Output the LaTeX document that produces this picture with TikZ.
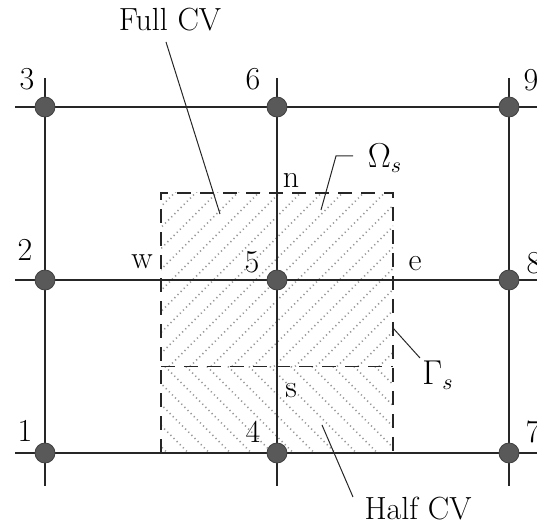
\documentclass[tikz,border=0pt]{standalone}
\begin{document}
\begin{tikzpicture}[x=0.5pt,y=-0.5pt,
  gridline/.style={line width=1pt,black!85},
  cvbox/.style={line width=0.9pt,black!85,dash pattern=on 7pt off 4.5pt},
  hatchline/.style={line width=0.75pt,black!40,dash pattern=on 0.6pt off 1.6pt},
  leader/.style={line width=0.5pt,black!85},
  gnode/.style={circle,fill=black!65,draw=black!75,line width=0.4pt,minimum size=10pt,inner sep=0pt},
  lbl/.style={inner sep=0pt,font=\fontsize{16}{19}\selectfont}]
\useasboundingbox (0,0) rectangle (537,524);
% hatching
\begin{scope}
\clip (161,193) rectangle (393,366.5);
\foreach \c in {-20,1,...,400} \draw[hatchline] (\c,366.5) -- ++(180,-180);
\end{scope}
\begin{scope}
\clip (161,366.5) rectangle (393,453);
\foreach \c in {60,81,...,400} \draw[hatchline] (\c,366.5) -- ++(100,100);
\end{scope}
% grid line ends
\coordinate (hl1) at (15,107); \coordinate (hr1) at (537,107);
\coordinate (hl2) at (15,280); \coordinate (hr2) at (537,280);
\coordinate (hl3) at (15,453); \coordinate (hr3) at (537,453);
\coordinate (vt1) at (45,78);  \coordinate (vb1) at (45,486);
\coordinate (vt2) at (277,78); \coordinate (vb2) at (277,486);
\coordinate (vt3) at (509,78); \coordinate (vb3) at (509,486);
\draw[gridline] (hl1) -- (hr1); \draw[gridline] (hl2) -- (hr2); \draw[gridline] (hl3) -- (hr3);
\draw[gridline] (vt1) -- (vb1); \draw[gridline] (vt2) -- (vb2); \draw[gridline] (vt3) -- (vb3);
% dashed control volume
\coordinate (bsw) at (161,453); \coordinate (bnw) at (161,193);
\coordinate (bne) at (393,193); \coordinate (bse) at (393,453);
\coordinate (bmw) at (161,366.5); \coordinate (bme) at (393,366.5);
\draw[cvbox] (bsw) -- (bnw) -- (bne) -- (bse);
\draw[cvbox] (bmw) -- (bme);
% grid points
\node[gnode] (n1) at (45,453) {};
\node[gnode] (n2) at (45,280) {};
\node[gnode] (n3) at (45,107) {};
\node[gnode] (n4) at (277,453) {};
\node[gnode] (n5) at (277,280) {};
\node[gnode] (n6) at (277,107) {};
\node[gnode] (n7) at (509,453) {};
\node[gnode] (n8) at (509,280) {};
\node[gnode] (n9) at (509,107) {};
% labels
\node[lbl] (l3) at (27,79) {3};
\node[lbl] (l6) at (253,79) {6};
\node[lbl] (l9) at (531,80) {9};
\node[lbl] (l2) at (25,250) {2};
\node[lbl] (l8) at (534,263) {8};
\node[lbl] (l1) at (25,431) {1};
\node[lbl] (l4) at (253,432) {4};
\node[lbl] (l7) at (533,432) {7};
\node[lbl] (l5) at (252,262) {5};
\node[lbl] (lw) at (142,262) {w};
\node[lbl] (le) at (415,264) {e};
\node[lbl] (ln) at (291,180) {n};
\node[lbl] (ls) at (291,391) {s};
\node[lbl] (full) at (170,20) {Full CV};
\node[lbl] (half) at (418,509) {Half CV};
\node[lbl] (omega) at (385,158) {$\Omega_s$};
\node[lbl] (gamma) at (438,375) {$\Gamma_s$};
% leaders
\coordinate (fa) at (166,42); \coordinate (fb) at (220,214);
\draw[leader] (fa) -- (fb);
\coordinate (oa) at (353,156); \coordinate (ob) at (336,156); \coordinate (oc) at (321,210);
\draw[leader] (oa) -- (ob) -- (oc);
\coordinate (ga) at (393,328); \coordinate (gb) at (420,358);
\draw[leader] (ga) -- (gb);
\coordinate (ha) at (322,425); \coordinate (hb) at (353,497);
\draw[leader] (ha) -- (hb);
\end{tikzpicture}
\end{document}
